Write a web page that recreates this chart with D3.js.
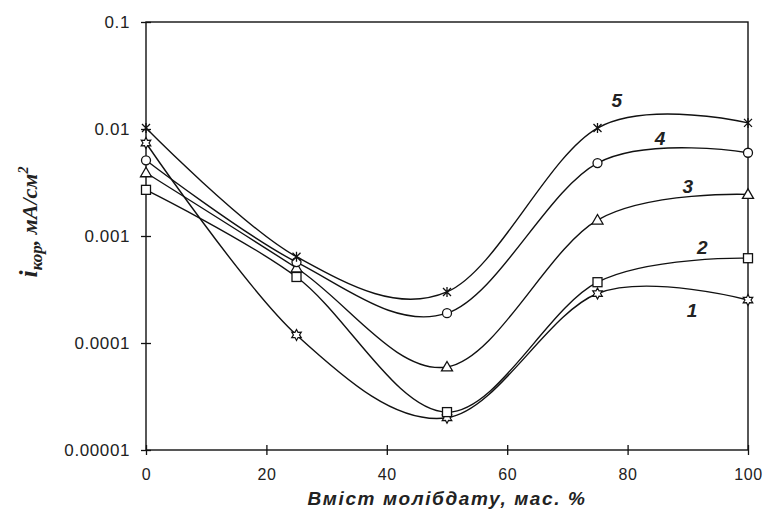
<!DOCTYPE html>
<html><head><meta charset="utf-8">
<script src="https://cdn.jsdelivr.net/npm/d3@7"></script>
<style>body{margin:0;background:#fff}svg{display:block}</style>
</head><body>
<script>
const xValues = [0, 25, 50, 75, 100];
const series1 = [0.0074, 0.000119, 0.0000200, 0.00029, 0.000252];
const series2 = [0.0027, 0.000414, 0.0000226, 0.00037, 0.00062];
const series3 = [0.0039, 0.000502, 0.0000597, 0.00141, 0.00245];
const series4 = [0.0051, 0.00057, 0.00019, 0.0048, 0.0060];
const series5 = [0.0102, 0.00064, 0.00030, 0.0102, 0.0114];
const seriesNames = ["1", "2", "3", "4", "5"];
const labelX = [90.7, 92.4, 90.0, 85.4, 78.2];
const labelY = [0.000203, 0.000773, 0.00293, 0.00807, 0.0183];
const xTicks = [0, 20, 40, 60, 80, 100];
const yTicks = [0.00001, 0.0001, 0.001, 0.01, 0.1];
const yTickLabels = ["0.00001", "0.0001", "0.001", "0.01", "0.1"];
const xTitle = "Вміст молібдату, мас. %";

const W = 763, H = 512;
const m = {left: 146, right: 15, top: 22, bottom: 62};
const svg = d3.select("body").append("svg").attr("width", W).attr("height", H);
const x = d3.scaleLinear().domain([0, 100]).range([m.left, W - m.right]);
const y = d3.scaleLog().domain([0.00001, 0.1]).range([H - m.bottom, m.top]);

// frame
svg.append("rect").attr("x", x(0)).attr("y", y(0.1)).attr("width", x(100) - x(0)).attr("height", y(0.00001) - y(0.1))
  .attr("fill", "none").attr("stroke", "#111").attr("stroke-width", 1.4);

const tickFont = "'Liberation Sans', Arial, sans-serif";
const ya = svg.append("g").attr("transform", `translate(${x(0)},0)`)
  .call(d3.axisLeft(y).tickValues(yTicks).tickFormat((d, i) => yTickLabels[i]).tickSizeInner(5).tickSizeOuter(0).tickPadding(11));
ya.select(".domain").remove();
ya.selectAll(".tick line").attr("x2", 5).attr("x1", -5).attr("stroke", "#111").attr("stroke-width", 1.3);
ya.selectAll(".tick text").attr("font-family", tickFont).attr("font-size", 17).attr("fill", "#222").style("letter-spacing", "0.6px");

const xa = svg.append("g").attr("transform", `translate(0,${y(0.00001)})`)
  .call(d3.axisBottom(x).tickValues(xTicks).tickFormat(d3.format("d")).tickSizeOuter(0).tickPadding(13));
xa.select(".domain").remove();
xa.selectAll(".tick line").attr("y1", -5).attr("y2", 5).attr("stroke", "#111").attr("stroke-width", 1.3);
xa.selectAll(".tick text").attr("font-family", tickFont).attr("font-size", 16).attr("fill", "#222").style("letter-spacing", "0.6px");

// titles
svg.append("text").attr("x", (x(0) + x(100)) / 2).attr("y", 505).attr("text-anchor", "middle")
  .attr("font-family", tickFont).attr("font-size", 19).attr("font-weight", "bold").attr("font-style", "italic")
  .attr("fill", "#222").style("letter-spacing", "1.6px").text(xTitle);

const yt = svg.append("text").attr("transform", `translate(37,${222}) rotate(-90)`).attr("text-anchor", "middle")
  .attr("font-family", "'Liberation Serif', 'Times New Roman', serif").attr("font-size", 22).attr("font-weight", "bold").attr("font-style", "italic").attr("fill", "#222");
yt.append("tspan").attr("font-size", 26).text("i");
yt.append("tspan").attr("font-size", 17).attr("dy", 5).text("кор");
yt.append("tspan").attr("dy", -5).text(", мА/см");
yt.append("tspan").attr("font-size", 14).attr("dy", -9).text("2");

// lines
const all = [series1, series2, series3, series4, series5];
const line = d3.line().x((d, i) => x(xValues[i])).y(d => y(d)).curve(d3.curveCardinal.tension(0));
const g = svg.append("g");
all.forEach(s => {
  g.append("path").attr("d", line(s)).attr("fill", "none").attr("stroke", "#111").attr("stroke-width", 1.4);
});

// markers
function marker(k, sel) {
  if (k === 0) { // hexagram-like star
    const r = 5.5;
    const pts = [];
    for (let j = 0; j < 12; j++) { const rr = j % 2 ? r * 0.55 : r; const a = Math.PI / 6 * j - Math.PI / 2; pts.push([rr * Math.cos(a), rr * Math.sin(a)]); }
    sel.append("path").attr("d", "M" + pts.map(p => p.join(",")).join("L") + "Z").attr("fill", "#fff").attr("stroke", "#111").attr("stroke-width", 1.2);
  } else if (k === 1) {
    sel.append("rect").attr("x", -4.5).attr("y", -4.5).attr("width", 9).attr("height", 9).attr("fill", "#fff").attr("stroke", "#111").attr("stroke-width", 1.3);
  } else if (k === 2) {
    sel.append("path").attr("d", "M0,-5.5L5.5,4L-5.5,4Z").attr("fill", "#fff").attr("stroke", "#111").attr("stroke-width", 1.3);
  } else if (k === 3) {
    sel.append("circle").attr("r", 4.5).attr("fill", "#fff").attr("stroke", "#111").attr("stroke-width", 1.3);
  } else {
    sel.append("path").attr("d", "M-4,-4L4,4M-4,4L4,-4M0,-5L0,5").attr("stroke", "#111").attr("stroke-width", 1.3);
  }
}
all.forEach((s, k) => {
  s.forEach((v, i) => {
    const mg = svg.append("g").attr("transform", `translate(${x(xValues[i])},${y(v)})`);
    marker(k, mg);
  });
});

// series labels
seriesNames.forEach((n, k) => {
  svg.append("text").attr("x", x(labelX[k])).attr("y", y(labelY[k])).attr("text-anchor", "middle").attr("dominant-baseline", "central")
    .attr("font-family", tickFont).attr("font-size", 19).attr("font-weight", "bold").attr("font-style", "italic").attr("fill", "#222").text(n);
});
</script>
</body></html>
